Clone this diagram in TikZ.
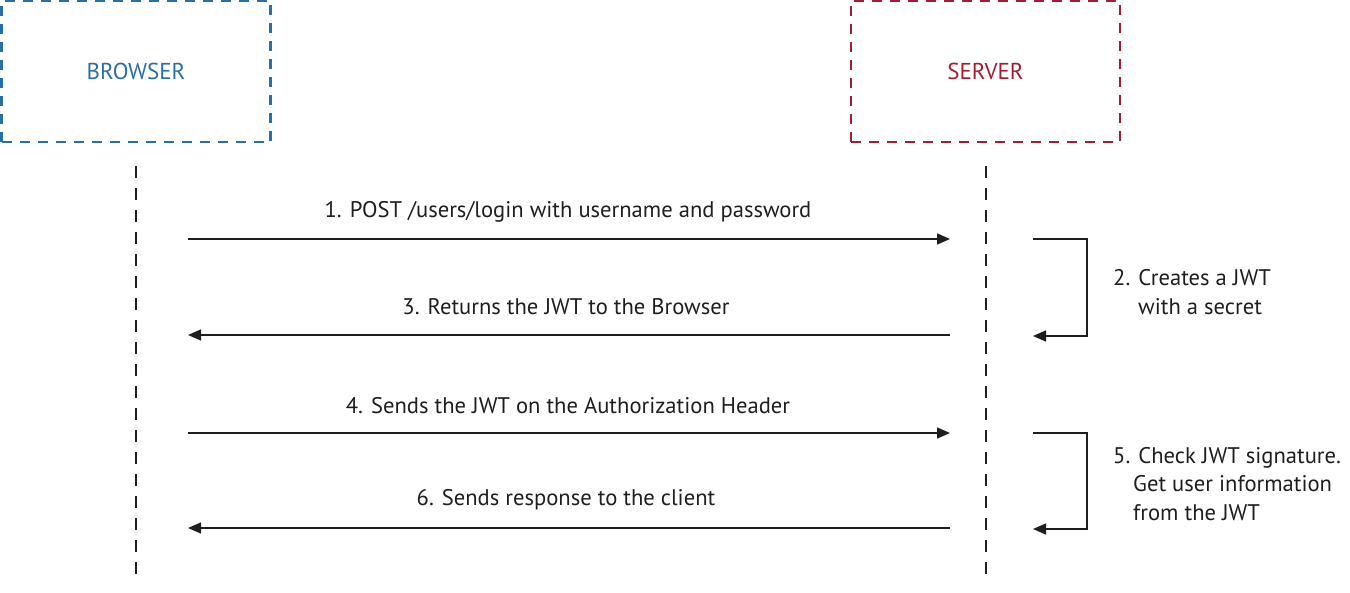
\documentclass[tikz,border=0pt]{standalone}
\usepackage{fontspec}
\setmainfont{PT Sans}
\usetikzlibrary{arrows.meta}
\definecolor{bblue}{RGB}{42,110,168}
\definecolor{sred}{RGB}{163,30,48}
\definecolor{ink}{RGB}{30,30,30}
\tikzset{
  actor/.style={draw, line width=2.2pt, dash pattern=on 10pt off 8pt, minimum width=269pt, minimum height=141pt, font=\fontsize{23}{27}\selectfont, inner sep=0pt},
  lifeline/.style={draw=ink, line width=1.8pt, dash pattern=on 12pt off 10pt},
  msg/.style={draw=ink, line width=1.5pt, -{Triangle[length=13pt,width=11pt]}},
  lbl/.style={font=\fontsize{22.6}{28.7}\selectfont, text=ink, inner sep=0pt},
}
\begin{document}
\begin{tikzpicture}[x=1pt,y=-1pt]
\useasboundingbox (0,0) rectangle (1350,593);
\node[actor, draw=bblue, text=bblue] (browser) at (136,71.5) {BROWSER};
\node[actor, draw=sred, text=sred] (server) at (985.5,71.5) {SERVER};
\coordinate (bt) at (136,166);
\coordinate (bb) at (136,580);
\coordinate (st) at (986,166);
\coordinate (sb) at (986,580);
\draw[lifeline] (bt) -- (bb);
\draw[lifeline] (st) -- (sb);
% message endpoints
\coordinate (b1) at (188,239); \coordinate (s1) at (950,239);
\coordinate (b3) at (188,335); \coordinate (s3) at (950,335);
\coordinate (b4) at (188,433); \coordinate (s4) at (950,433);
\coordinate (b6) at (188,528); \coordinate (s6) at (950,528);
\draw[msg] (b1) -- (s1);
\draw[msg] (s3) -- (b3);
\draw[msg] (b4) -- (s4);
\draw[msg] (s6) -- (b6);
\node[lbl] (l1) at (568,212) {1. POST /users/login with username and password};
\node[lbl] (l3) at (566,307) {3. Returns the JWT to the Browser};
\node[lbl] (l4) at (568,406) {4. Sends the JWT on the Authorization Header};
\node[lbl] (l6) at (566,500) {6. Sends response to the client};
% self loops
\coordinate (p2a) at (1033,239); \coordinate (p2b) at (1033,336);
\coordinate (p5a) at (1033,433); \coordinate (p5b) at (1033,529);
\draw[msg] (p2a) -- (1087,239) -- (1087,336) -- (p2b);
\draw[msg] (p5a) -- (1087,433) -- (1087,529) -- (p5b);
\node[lbl, anchor=west, align=left] (l2) at (1113,292) {2. Creates a JWT\\\hspace*{25pt}with a secret};
\node[lbl, anchor=west, align=left] (l5) at (1113,484) {5. Check JWT signature.\\\hspace*{20pt}Get user information\\\hspace*{20pt}from the JWT};
\end{tikzpicture}
\end{document}
